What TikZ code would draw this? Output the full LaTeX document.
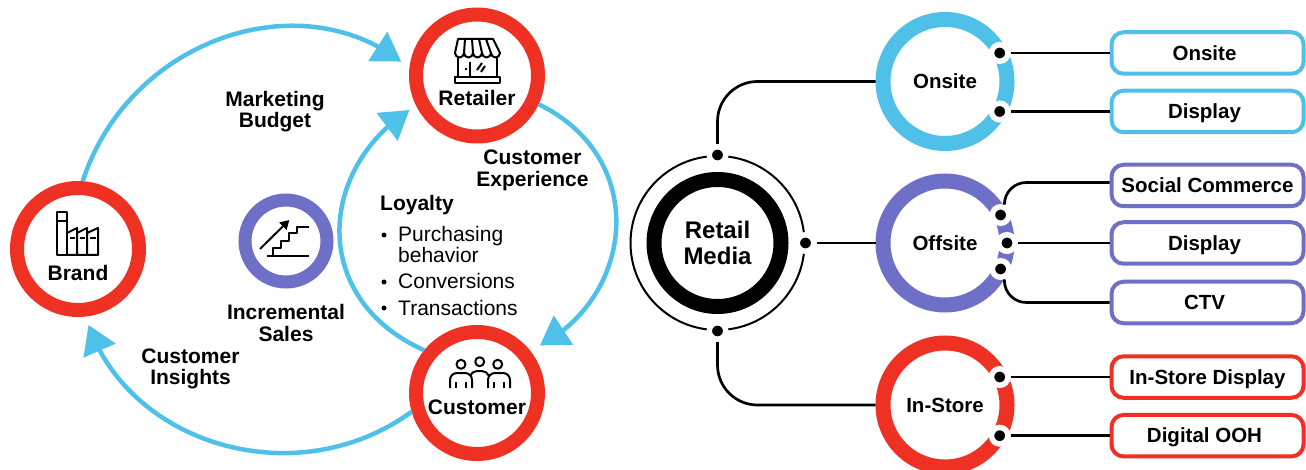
\documentclass[tikz,border=0pt]{standalone}
\usepackage{fontspec}
\setmainfont{Liberation Sans}
\usetikzlibrary{arrows.meta,decorations.markings}
\definecolor{ringred}{HTML}{EF3124}
\definecolor{ringblue}{HTML}{4FC1E9}
\definecolor{ringpurple}{HTML}{6E70C8}
\tikzset{
  ring/.style={circle,draw=#1,line width=14pt,fill=white,inner sep=0pt,minimum size=122pt},
  subring/.style={circle,draw=#1,line width=15pt,fill=white,inner sep=0pt,minimum size=124pt,font=\fontsize{20.5}{21.5}\selectfont\bfseries},
  flow/.style={color=ringblue,draw,line width=4.5pt,shorten >=#1pt+5pt,postaction={decorate},
    decoration={markings,mark=at position -#1pt with {\arrow{Triangle[length=28pt,width=34pt]}}}},
  lbl/.style={align=center,inner sep=0pt,font=\fontsize{21}{21.5}\selectfont\bfseries},
  txt/.style={anchor=base west,inner sep=0pt,font=\fontsize{21}{21.5}\selectfont},
  dotmark/.style={circle,fill=black,draw=white,line width=5.5pt,inner sep=0pt,minimum size=16.5pt},
  bullet/.style={circle,fill=black,inner sep=0pt,minimum size=5pt},
  tagbox/.style={draw=#1,line width=4pt,rounded corners=12pt,fill=white,minimum width=192pt,minimum height=41.5pt,inner sep=0pt,text height=14.5pt,text depth=0pt,font=\fontsize{20.5}{21.5}\selectfont\bfseries},
  nudged/.style={execute at begin node={\hskip-6pt}},
  wire/.style={draw=black,line width=2.7pt},
  icon/.style={draw=black,line width=2pt,line join=round}
}
\begin{document}
\begin{tikzpicture}[x=1pt,y=-1pt]
  \useasboundingbox (0,0) rectangle (1306,470);

  % cycle on the left
  \node[ring=ringred] (brand) at (78,249) {};
  \node[ring=ringred] (retailer) at (477,75.5) {};
  \node[ring=ringred] (customer) at (477,393) {};
  \node[circle,draw=ringpurple,line width=13pt,fill=white,inner sep=0pt,minimum size=82pt] (sales) at (286,241) {};

  \draw[flow=10] (brand.86) to[out=72,in=144.5,looseness=1.07] (retailer.173);
  \draw[flow=11] (retailer.-25) to[out=-26,in=30,looseness=1.25] (customer.38);
  \draw[flow=8] (customer.141) to[out=156,in=215,looseness=1.27] (retailer.206);
  \draw[flow=9] (customer.196) to[out=-144,in=291,looseness=1.05] (brand.-84);

  \node[lbl] (brandtxt) at (78,273) {Brand};
  \node[lbl] (retailertxt) at (477,98) {Retailer};
  \node[lbl] (customertxt) at (477,407) {Customer};
  \node[lbl] (budget) at (275,111.5) {Marketing\\Budget};
  \node[lbl] (experience) at (532.5,170.5) {Customer\\Experience};
  \node[lbl] (salestxt) at (286,323) {Incremental\\Sales};
  \node[lbl] (insights) at (190.5,369) {Customer\\Insights};

  \node[txt,font=\fontsize{21}{21.5}\selectfont\bfseries] (loyalty) at (380,210.5) {Loyalty};
  \node[bullet] (b1) at (384,235) {};
  \node[txt] (purchasing) at (398,242) {Purchasing};
  \node[txt] (behavior) at (398,263) {behavior};
  \node[bullet] (b2) at (384,282) {};
  \node[txt] (conversions) at (398,289) {Conversions};
  \node[bullet] (b3) at (384,308) {};
  \node[txt] (transactions) at (398,315) {Transactions};

  % store
  \draw[icon] (458,39) -- (493,39) -- (500,53)
    arc[start angle=0,end angle=-180,radius=4.5pt]
    arc[start angle=0,end angle=-180,radius=4.5pt]
    arc[start angle=0,end angle=-180,radius=4.5pt]
    arc[start angle=0,end angle=-180,radius=4.5pt]
    arc[start angle=0,end angle=-180,radius=4.5pt] -- cycle;
  \draw[icon] (465,39) -- (464,53);
  \draw[icon] (472,39) -- (473,53);
  \draw[icon] (479,39) -- (482,53);
  \draw[icon] (486,39) -- (491,53);
  \draw[icon] (458,57) -- (458,77);
  \draw[icon] (497,57) -- (497,77);
  \draw[icon] (470,62) -- (470,77);
  \draw[icon] (477,70) -- (482,63);
  \draw[icon] (481,72) -- (485,66);
  \draw[icon] (466,68) -- (466,70);
  \draw[icon] (455,77) rectangle (500,83);

  % factory
  \draw[icon] (57,212) rectangle (67,255);
  \draw[icon] (57,221) -- (67,221);
  \draw[icon] (67,233) -- (77,228) -- (77,255);
  \draw[icon] (77,233) -- (87,228) -- (87,255);
  \draw[icon] (87,233) -- (98,228) -- (98,255) -- (67,255);
  \draw[icon] (70,238) -- (75,238);
  \draw[icon] (80,238) -- (85,238);
  \draw[icon] (90,238) -- (96,238);

  % stairs
  \draw[icon] (267,256) -- (309,256);
  \draw[icon] (272.7,256) -- (272.7,248.3) -- (280.7,248.3) -- (280.7,241) -- (288.7,241) -- (288.7,233.3) -- (296.7,233.3) -- (296.7,226.7) -- (309.3,226.7);
  \draw[icon,-{Triangle[length=9pt,width=10pt]}] (260,249) -- (289.3,220);

  % people
  \draw[icon] (461,364.3) circle[radius=4.5pt];
  \draw[icon] (479.7,361.7) circle[radius=4.5pt];
  \draw[icon] (497.7,364.3) circle[radius=4.5pt];
  \draw[icon,rounded corners=7pt] (450,388) -- (450,373) -- (472,373) -- (472,388);
  \draw[icon,rounded corners=7pt] (488,388) -- (488,373) -- (510,373) -- (510,388);
  \draw[icon,rounded corners=5pt] (470,376) -- (472,371) -- (487,371) -- (489,376);
  \draw[icon] (456,382) -- (456,388);
  \draw[icon] (466,382) -- (466,388);
  \draw[icon] (494,382) -- (494,388);
  \draw[icon] (504,382) -- (504,388);

  % tree on the right
  \node[circle,draw=black,line width=2pt,inner sep=0pt,minimum size=174pt] (mediaouter) at (717.5,243) {};
  \node[circle,draw=black,line width=15pt,fill=white,inner sep=0pt,minimum size=127pt,align=center,font=\fontsize{24}{26.7}\selectfont\bfseries] (media) at (717.5,243) {Retail\\Media};

  \node[subring=ringblue] (onsite) at (945,81.5) {Onsite};
  \node[subring=ringpurple] (offsite) at (945,243) {Offsite};
  \node[subring=ringred] (instore) at (945,405) {In-Store};

  \node[tagbox=ringblue,nudged] (tagonsite) at (1207.5,53) {Onsite};
  \node[tagbox=ringblue,nudged] (tagdisplay) at (1207.5,111.5) {Display};
  \node[tagbox=ringpurple] (tagsocial) at (1207.5,185.5) {Social Commerce};
  \node[tagbox=ringpurple,nudged] (tagoffdisplay) at (1207.5,243) {Display};
  \node[tagbox=ringpurple,nudged] (tagctv) at (1207.5,302.5) {CTV};
  \node[tagbox=ringred] (tagstore) at (1207.5,377) {In-Store Display};
  \node[tagbox=ringred,nudged] (tagooh) at (1207.5,435.7) {Digital OOH};

  \node[dotmark] (mediatop) at (mediaouter.north) {};
  \node[dotmark] (mediaright) at (mediaouter.east) {};
  \node[dotmark] (mediabottom) at (mediaouter.south) {};
  \node[dotmark] (on1) at (999.7,53) {};
  \node[dotmark] (on2) at (999.7,111.5) {};
  \node[dotmark] (off1) at (1000.6,215) {};
  \node[dotmark] (off2) at (1007,243) {};
  \node[dotmark] (off3) at (1000.6,269) {};
  \node[dotmark] (st1) at (999.7,377) {};
  \node[dotmark] (st2) at (999.7,435.7) {};

  \draw[wire,rounded corners=40pt] (mediatop) |- (onsite);
  \draw[wire,rounded corners=40pt] (mediabottom) |- (instore);
  \draw[wire] (mediaright) -- (offsite);
  \draw[wire] (on1) -- (tagonsite);
  \draw[wire] (on2) -- (tagdisplay);
  \draw[wire,rounded corners=22pt] (off1.70) |- ([yshift=3pt]tagsocial.west);
  \draw[wire] (off2) -- (tagoffdisplay);
  \draw[wire,rounded corners=22pt] (off3.-70) |- (tagctv.west);
  \draw[wire] (st1) -- (tagstore);
  \draw[wire] (st2) -- (tagooh);
\end{tikzpicture}
\end{document}
